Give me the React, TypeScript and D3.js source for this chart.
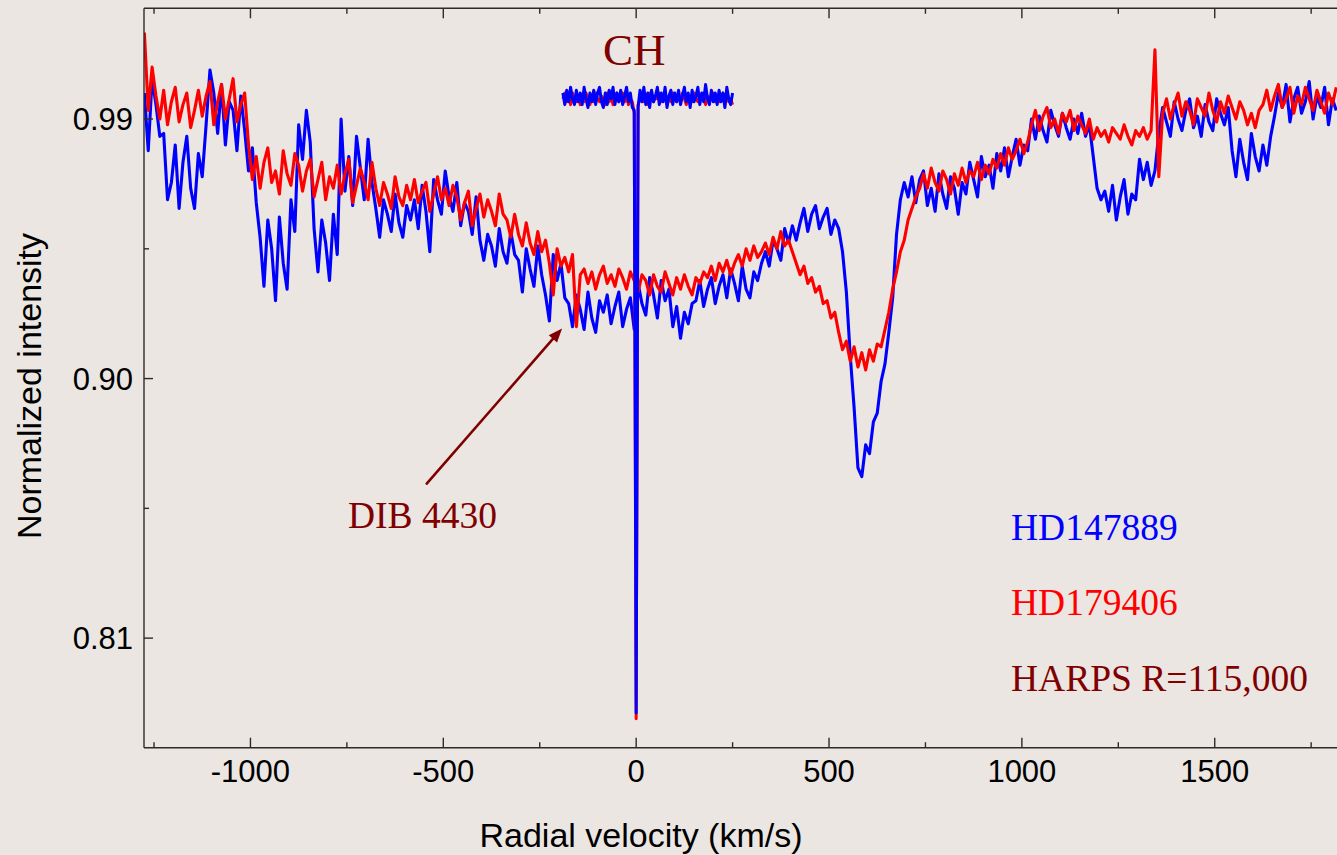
import React from "react";
import * as d3 from "d3";

// Velocity grid of the two HARPS spectra (km/s)
const VEL_START = -1275;
const VEL_STEP = 10;

// HD147889 normalized intensity (blue)
const hd147889 = [
  0.999, 0.979, 1.004, 0.995, 0.984, 0.985, 0.962, 0.968, 0.981, 0.959,
  0.975, 0.984, 0.966, 0.959, 0.978, 0.970, 0.988, 1.007, 0.999, 0.985,
  1.002, 0.981, 0.996, 0.993, 0.979, 0.998, 0.986, 0.972, 0.980, 0.961,
  0.949, 0.932, 0.955, 0.945, 0.927, 0.956, 0.940, 0.931, 0.962, 0.951,
  0.988, 0.976, 0.993, 0.982, 0.952, 0.937, 0.955, 0.947, 0.934, 0.957,
  0.943, 0.990, 0.965, 0.977, 0.960, 0.984, 0.973, 0.962, 0.983, 0.968,
  0.959, 0.949, 0.962, 0.957, 0.951, 0.964, 0.954, 0.949, 0.960, 0.955,
  0.962, 0.952, 0.967, 0.958, 0.944, 0.969, 0.962, 0.957, 0.972, 0.963,
  0.958, 0.968, 0.953, 0.961, 0.958, 0.950, 0.963, 0.948, 0.941, 0.950,
  0.946, 0.939, 0.952, 0.944, 0.940, 0.951, 0.943, 0.941, 0.930, 0.945,
  0.938, 0.932, 0.946, 0.936, 0.929, 0.920, 0.943, 0.934, 0.940, 0.928,
  0.926, 0.918, 0.929, 0.924, 0.917, 0.930, 0.921, 0.916, 0.927, 0.923,
  0.929, 0.919, 0.925, 0.930, 0.918, 0.924, 0.928, 0.917, 0.933, 0.926,
  0.922, 0.935, 0.929, 0.921, 0.934, 0.927, 0.931, 0.918, 0.925, 0.914,
  0.923, 0.919, 0.926, 0.927, 0.934, 0.925, 0.931, 0.935, 0.926, 0.932,
  0.936, 0.928, 0.938, 0.933, 0.927, 0.939, 0.931, 0.928, 0.937, 0.934,
  0.940, 0.944, 0.939, 0.948, 0.945, 0.941, 0.952, 0.947, 0.953, 0.948,
  0.954, 0.959, 0.951, 0.957, 0.960, 0.952, 0.956, 0.959, 0.950, 0.955,
  0.952, 0.944, 0.930, 0.908, 0.890, 0.869, 0.866, 0.877, 0.874, 0.885,
  0.888, 0.899, 0.905, 0.916, 0.928, 0.950, 0.962, 0.968, 0.963, 0.970,
  0.961, 0.969, 0.972, 0.960, 0.966, 0.958, 0.971, 0.964, 0.959, 0.970,
  0.966, 0.957, 0.968, 0.964, 0.975, 0.969, 0.963, 0.977, 0.970, 0.974,
  0.966, 0.978, 0.972, 0.980, 0.970, 0.977, 0.983, 0.974, 0.981, 0.979,
  0.990, 0.983, 0.991, 0.986, 0.982, 0.993, 0.988, 0.984, 0.992, 0.987,
  0.983, 0.990, 0.985, 0.992, 0.984, 0.988, 0.977, 0.966, 0.962, 0.965,
  0.958, 0.967, 0.955, 0.963, 0.969, 0.957, 0.964, 0.962, 0.976, 0.969,
  0.975, 0.967, 0.972, 0.985, 0.994, 0.989, 0.984, 0.996, 0.990, 0.986,
  0.993, 0.997, 0.987, 0.991, 0.984, 0.995, 0.989, 0.986, 0.997, 0.992,
  0.988, 0.994, 0.979, 0.970, 0.983, 0.975, 0.969, 0.985, 0.977, 0.972,
  0.981, 0.974, 0.984, 0.991, 0.999, 0.994, 1.002, 0.989, 0.997, 1.001,
  0.992, 0.996, 1.003, 0.990, 0.998, 0.994, 1.001, 0.988, 0.997, 0.993,
];

// HD179406 normalized intensity (red)
const hd179406 = [
  1.020, 0.993, 1.008, 0.998, 0.990, 1.000, 0.988, 0.996, 1.001, 0.989,
  0.995, 0.999, 0.987, 0.993, 1.000, 0.991, 0.998, 1.003, 0.988, 0.996,
  1.002, 0.990, 0.997, 1.004, 0.989, 0.995, 0.999, 0.981, 0.969, 0.977,
  0.966, 0.975, 0.980, 0.968, 0.972, 0.964, 0.979, 0.971, 0.967, 0.978,
  0.974, 0.965, 0.972, 0.976, 0.963, 0.969, 0.975, 0.962, 0.970, 0.966,
  0.974, 0.964, 0.971, 0.976, 0.961, 0.967, 0.973, 0.968, 0.962, 0.975,
  0.966, 0.960, 0.968, 0.964, 0.959, 0.970, 0.963, 0.960, 0.967, 0.962,
  0.969, 0.961, 0.965, 0.968, 0.958, 0.964, 0.970, 0.962, 0.966, 0.960,
  0.967, 0.963, 0.955, 0.961, 0.965, 0.953, 0.959, 0.964, 0.956, 0.962,
  0.958, 0.953, 0.964, 0.957, 0.955, 0.949, 0.957, 0.950, 0.946, 0.954,
  0.947, 0.943, 0.951, 0.944, 0.948, 0.940, 0.929, 0.945, 0.939, 0.942,
  0.937, 0.943, 0.918, 0.936, 0.938, 0.933, 0.937, 0.931, 0.936, 0.939,
  0.933, 0.936, 0.932, 0.938, 0.935, 0.931, 0.937, 0.934, 0.930, 0.936,
  0.934, 0.929, 0.936, 0.932, 0.930, 0.937, 0.933, 0.929, 0.935, 0.931,
  0.936, 0.932, 0.929, 0.935, 0.933, 0.937, 0.935, 0.939, 0.934, 0.940,
  0.937, 0.941, 0.936, 0.940, 0.943, 0.939, 0.945, 0.941, 0.946, 0.942,
  0.944, 0.947, 0.943, 0.949, 0.945, 0.951, 0.946, 0.948, 0.944, 0.940,
  0.936, 0.939, 0.933, 0.935, 0.930, 0.932, 0.926, 0.927, 0.921, 0.923,
  0.916, 0.910, 0.913, 0.906, 0.911, 0.904, 0.909, 0.903, 0.910, 0.906,
  0.912, 0.911, 0.917, 0.923, 0.931, 0.937, 0.944, 0.948, 0.955, 0.959,
  0.963, 0.966, 0.971, 0.966, 0.973, 0.968, 0.965, 0.972, 0.969, 0.964,
  0.971, 0.967, 0.973, 0.968, 0.972, 0.970, 0.975, 0.969, 0.974, 0.971,
  0.976, 0.973, 0.978, 0.974, 0.980, 0.976, 0.979, 0.983, 0.978, 0.982,
  0.988, 0.993, 0.986, 0.991, 0.994, 0.987, 0.990, 0.985, 0.992, 0.989,
  0.993, 0.986, 0.991, 0.988, 0.985, 0.990, 0.983, 0.987, 0.984, 0.986,
  0.982, 0.987, 0.985, 0.983, 0.988, 0.984, 0.981, 0.986, 0.984, 0.987,
  0.983, 0.986, 1.014, 0.970, 0.992, 0.997, 0.990, 0.995, 0.999, 0.991,
  0.996, 0.993, 0.988, 0.997, 0.994, 0.991, 0.999, 0.993, 0.989, 0.996,
  0.992, 0.998, 0.994, 0.990, 0.996, 0.993, 0.988, 0.992, 0.987, 0.993,
  0.995, 1.000, 0.993, 0.998, 1.002, 0.994, 0.997, 1.001, 0.992, 0.998,
  0.995, 1.001, 0.997, 0.993, 1.000, 0.996, 0.992, 0.999, 0.995, 1.001,
];

// CH line inset (velocity grid and intensities)
const CH_START = -190;
const CH_STEP = 5;
const chBlue = [
  0.999, 0.995, 1.000, 0.996, 1.001, 0.997, 0.995, 1.000, 0.996, 0.999,
  0.995, 1.001, 0.997, 0.994, 0.999, 0.996, 1.000, 0.995, 0.999, 1.001,
  0.996, 0.994, 0.999, 0.995, 1.000, 0.997, 1.001, 0.995, 0.999, 0.996,
  1.000, 0.995, 0.998, 1.001, 0.996, 0.999, 0.994, 0.993, 0.784, 0.994,
  1.000, 0.996, 1.001, 0.995, 0.999, 0.994, 1.000, 0.996, 0.998, 1.001,
  0.995, 0.999, 0.996, 1.001, 0.994, 0.998, 1.000, 0.995, 0.999, 0.996,
  1.000, 0.995, 0.998, 1.001, 0.996, 0.999, 0.994, 1.000, 0.996, 0.998,
  1.001, 0.995, 0.999, 0.996, 1.002, 0.997, 0.995, 1.000, 0.996, 0.999,
  0.995, 1.000, 0.996, 0.999, 0.994, 1.001, 0.997, 0.995, 0.999,
];
const chRed = [
  0.997, 0.999, 0.996, 0.998, 0.995, 0.999, 0.997, 0.996, 0.998, 0.995,
  0.998, 0.996, 0.999, 0.997, 0.995, 0.998, 0.996, 0.999, 0.997, 0.996,
  0.998, 0.997, 0.995, 0.999, 0.996, 0.998, 0.995, 0.997, 0.999, 0.996,
  0.997, 0.999, 0.996, 0.998, 0.995, 0.997, 0.996, 0.992, 0.782, 0.995,
  0.997, 0.999, 0.996, 0.998, 0.995, 0.999, 0.997, 0.996, 0.998, 0.997,
  0.999, 0.996, 0.998, 0.997, 0.995, 0.998, 0.996, 0.999, 0.997, 0.996,
  0.998, 0.996, 0.999, 0.997, 0.995, 0.998, 0.997, 0.996, 0.999, 0.997,
  0.996, 0.998, 0.997, 0.999, 0.995, 0.998, 0.996, 0.997, 0.999, 0.996,
  0.998, 0.996, 0.997, 0.999, 0.995, 0.998, 0.996, 0.997, 0.995,
];

// Axis ticks
const xMajorTicks = [-1000, -500, 0, 500, 1000, 1500];
const xMinorTicks = [-1250, -750, -250, 250, 750, 1250, 1750];
const yMajorTicks = [0.99, 0.9, 0.81];
const yTickLabels = ["0.99", "0.90", "0.81"];
const yMinorTicks = [0.945, 0.855];

// Legend texts
const legendLabels = ["HD147889", "HD179406", "HARPS R=115,000"];
const legendColors = ["#0000FF", "#FF0000", "#800000"];

const W = 1337;
const H = 855;
const BG = "#EBE6E2";
const DARK_RED = "#800000";

export default function App() {
  const left = 144;
  const right = 1337;
  const top = 8.3;
  const bottom = 747.7;

  const x = d3.scaleLinear().domain([-1276, 1817]).range([left, right]);
  const y = d3.scaleLinear().domain([0.772, 1.0284]).range([bottom, top]);

  const mainVel = hd147889.map((_, i) => VEL_START + i * VEL_STEP);
  const chVel = chBlue.map((_, i) => CH_START + i * CH_STEP);

  const line = d3
    .line<[number, number]>()
    .x((d) => x(d[0]))
    .y((d) => y(d[1]));

  const bluePath = line(mainVel.map((v, i) => [v, hd147889[i]]));
  const redPath = line(mainVel.map((v, i) => [v, hd179406[i]]));
  const chBluePath = line(chVel.map((v, i) => [v, chBlue[i]]));
  const chRedPath = line(chVel.map((v, i) => [v, chRed[i]]));

  // arrow annotation (DIB 4430)
  const ax0 = x(-543), ay0 = y(0.8636);
  const ax1 = x(-192), ay1 = y(0.9174);
  const ang = Math.atan2(ay1 - ay0, ax1 - ax0);
  const headLen = 14, headW = 5.5;
  const bx = ax1 - headLen * Math.cos(ang), by = ay1 - headLen * Math.sin(ang);
  const head = [
    [ax1, ay1],
    [bx + headW * Math.sin(ang), by - headW * Math.cos(ang)],
    [bx - headW * Math.sin(ang), by + headW * Math.cos(ang)],
  ]
    .map((p) => p.join(","))
    .join(" ");

  const axisColor = "#2b2b2b";
  const sans = "'Liberation Sans', Arial, sans-serif";
  const serif = "'Liberation Serif', 'Times New Roman', serif";

  return (
    <svg
      width={W}
      height={H}
      style={{ position: "absolute", left: 0, top: 0, display: "block" }}
    >
      <rect x={0} y={0} width={W} height={H} fill={BG} />
      <defs>
        <clipPath id="plotClip">
          <rect x={left} y={top} width={right - left} height={bottom - top} />
        </clipPath>
      </defs>

      <g clipPath="url(#plotClip)" fill="none" strokeLinejoin="round">
        <path d={bluePath || ""} stroke="#0000FF" strokeWidth={3.1} />
        <path d={redPath || ""} stroke="#FF0000" strokeWidth={3.1} />
        <path d={chRedPath || ""} stroke="#FF0000" strokeWidth={3} />
        <path d={chBluePath || ""} stroke="#0000FF" strokeWidth={3} />
      </g>

      {/* frame */}
      <g stroke={axisColor} strokeWidth={1.4} fill="none">
        <line x1={left} y1={top} x2={left} y2={bottom} />
        <line x1={left} y1={bottom} x2={right} y2={bottom} />
        <line x1={left} y1={top} x2={right} y2={top} />
        {xMajorTicks.map((t) => (
          <g key={"xm" + t}>
            <line x1={x(t)} x2={x(t)} y1={bottom} y2={bottom - 10} />
            <line x1={x(t)} x2={x(t)} y1={top} y2={top + 10} />
          </g>
        ))}
        {xMinorTicks.map((t) => (
          <g key={"xn" + t}>
            <line x1={x(t)} x2={x(t)} y1={bottom} y2={bottom - 5.5} />
            <line x1={x(t)} x2={x(t)} y1={top} y2={top + 5.5} />
          </g>
        ))}
        {yMajorTicks.map((t) => (
          <line key={"ym" + t} x1={left} x2={left + 9} y1={y(t)} y2={y(t)} />
        ))}
        {yMinorTicks.map((t) => (
          <line key={"yn" + t} x1={left} x2={left + 5} y1={y(t)} y2={y(t)} />
        ))}
      </g>

      {/* tick labels */}
      <g fontFamily={sans} fontSize={31} fill="#000">
        {xMajorTicks.map((t) => (
          <text key={"xl" + t} x={x(t)} y={782} textAnchor="middle">
            {t}
          </text>
        ))}
        {yMajorTicks.map((t, i) => (
          <text key={"yl" + t} x={133} y={y(t) + 11} textAnchor="end">
            {yTickLabels[i]}
          </text>
        ))}
      </g>

      {/* axis titles */}
      <text
        x={641}
        y={847}
        textAnchor="middle"
        fontFamily={sans}
        fontSize={34}
        fill="#000"
      >
        Radial velocity (km/s)
      </text>
      <text
        transform={`translate(41, 386) rotate(-90)`}
        textAnchor="middle"
        fontFamily={sans}
        fontSize={34}
        fill="#000"
      >
        Normalized intensity
      </text>

      {/* CH label */}
      <text x={x(-86)} y={y(1.0087)} fontFamily={serif} fontSize={45} fill={DARK_RED}>
        CH
      </text>

      {/* DIB annotation */}
      <line
        x1={ax0}
        y1={ay0}
        x2={bx}
        y2={by}
        stroke={DARK_RED}
        strokeWidth={2.6}
        strokeLinecap="round"
      />
      <polygon points={head} fill={DARK_RED} />
      <text x={x(-747)} y={y(0.8481)} fontFamily={serif} fontSize={37.5} fill={DARK_RED}>
        DIB 4430
      </text>

      {/* legend */}
      {legendLabels.map((lab, i) => (
        <text
          key={lab}
          x={1011}
          y={540 + i * 75.4}
          fontFamily={serif}
          fontSize={37.5}
          fill={legendColors[i]}
        >
          {lab}
        </text>
      ))}
    </svg>
  );
}
